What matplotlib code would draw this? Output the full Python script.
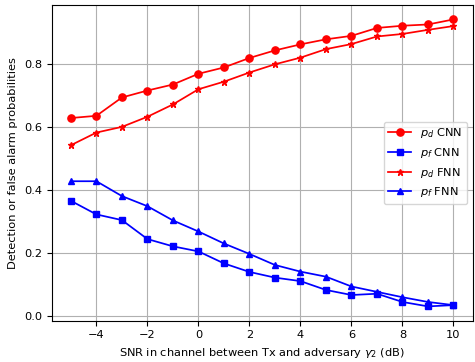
import numpy as np
import matplotlib
matplotlib.use("Agg")
import matplotlib.pyplot as plt

snr = np.arange(-5, 11)

pd_cnn = [0.628, 0.635, 0.693, 0.715, 0.734, 0.768, 0.788, 0.818, 0.842,
          0.861, 0.877, 0.888, 0.913, 0.920, 0.924, 0.940]
pf_cnn = [0.366, 0.323, 0.305, 0.245, 0.222, 0.206, 0.168, 0.141, 0.123,
          0.112, 0.084, 0.068, 0.072, 0.046, 0.032, 0.036]
pd_fnn = [0.542, 0.582, 0.600, 0.632, 0.671, 0.719, 0.743, 0.772, 0.798,
          0.819, 0.846, 0.862, 0.886, 0.894, 0.907, 0.919]
pf_fnn = [0.428, 0.428, 0.381, 0.349, 0.304, 0.269, 0.231, 0.198, 0.163,
          0.142, 0.126, 0.095, 0.078, 0.061, 0.046, 0.036]

plt.rcParams['font.size'] = 8.2
plt.rcParams['lines.linewidth'] = 1.25

fig, ax = plt.subplots(figsize=(4.75, 3.62), dpi=100)
ax.plot(snr, pd_cnn, 'r-o', markersize=5.2, label=r'$p_d$ CNN')
ax.plot(snr, pf_cnn, 'b-s', markersize=5.0, label=r'$p_f$ CNN')
ax.plot(snr, pd_fnn, 'r-*', markersize=4.5, label=r'$p_d$ FNN')
ax.plot(snr, pf_fnn, 'b-^', markersize=4.5, label=r'$p_f$ FNN')

ax.set_xticks([-4, -2, 0, 2, 4, 6, 8, 10])
ax.set_xlabel(r'SNR in channel between Tx and adversary $\gamma_2$ (dB)')
ax.set_ylabel('Detection or false alarm probabilities')
ax.grid(True)
ax.legend(loc='center right')

fig.subplots_adjust(left=0.109, right=0.995, top=0.986, bottom=0.114)
fig.savefig('out.png', dpi=100)
